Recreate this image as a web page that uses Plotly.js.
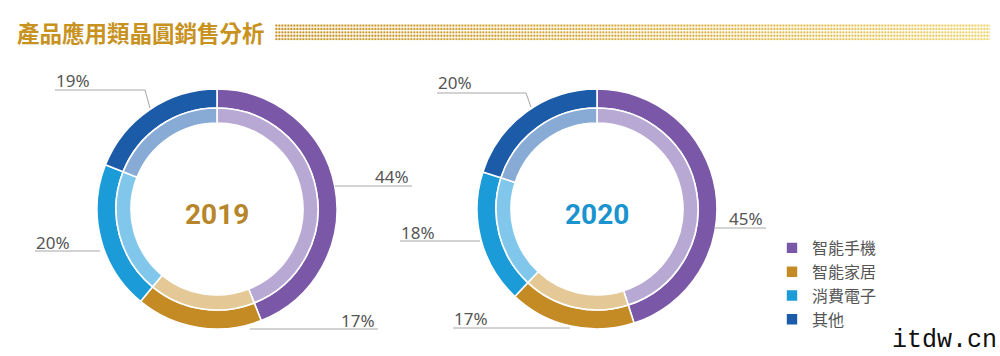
<!DOCTYPE html>
<html><head><meta charset="utf-8">
<script src="https://cdn.plot.ly/plotly-3.0.1.min.js"></script>
<style>html,body{margin:0;padding:0;background:#fff}#chart{width:1000px;height:356px}</style>
</head><body><div id="chart"></div>
<script>
// ---- data ----
const categories = ['智能手機', '智能家居', '消費電子', '其他'];
const years = ['2019', '2020'];
const share2019 = [44, 17, 20, 19];
const share2020 = [45, 17, 18, 20];
const titleText = '產品應用類晶圓銷售分析';

// ---- styles ----
const darkColors = ['#7b58a7', '#c48a24', '#1b9bd7', '#1b5ba8'];
const lightColors = ['#b8a8d4', '#e4c997', '#80c7eb', '#88abd6'];
const yearColors = ['#b8862a', '#1a93cf'];
const W = 1000, H = 356;
const px = x => x / W, py = y => 1 - y / H;
const centers = [[217, 209], [597, 209]];
const R_OUT = 120, R_MID = 101, R_IN = 86;

function dom(cx, cy, r) {
  return {x: [px(cx - r), px(cx + r)], y: [py(cy + r), py(cy - r)]};
}
const seriesByYear = [share2019, share2020];
const traces = [];
seriesByYear.forEach((vals, i) => {
  const [cx, cy] = centers[i];
  traces.push({
    type: 'pie', labels: categories, values: vals, sort: false, direction: 'clockwise', rotation: 0,
    hole: R_MID / R_OUT, domain: dom(cx, cy, R_OUT), textinfo: 'none', hoverinfo: 'label+percent',
    marker: {colors: darkColors, line: {color: '#ffffff', width: 1.6}}, showlegend: i === 0
  });
  traces.push({
    type: 'pie', labels: categories, values: vals, sort: false, direction: 'clockwise', rotation: 0,
    hole: R_IN / R_MID, domain: dom(cx, cy, R_MID), textinfo: 'none', hoverinfo: 'label+percent',
    marker: {colors: lightColors, line: {color: '#ffffff', width: 1.6}}, showlegend: false
  });
});

// label placement (layout only): per year, per slice index
const labelLayout = [
  [
    {tx: 411, ty: 177, anchor: 'right', line: [[335, 186], [412, 186]]},
    {tx: 377, ty: 320, anchor: 'right', line: [[250, 329], [378, 329]]},
    {tx: 34, ty: 242, anchor: 'left', line: [[35, 251], [100, 251]]},
    {tx: 54, ty: 81, anchor: 'left', line: [[55, 90], [145, 90], [150, 108]]}
  ],
  [
    {tx: 765, ty: 218, anchor: 'right', line: [[715, 228], [766, 228]]},
    {tx: 452, ty: 318, anchor: 'left', line: [[453, 328], [570, 328]]},
    {tx: 399, ty: 232, anchor: 'left', line: [[400, 241], [480, 241]]},
    {tx: 436, ty: 83, anchor: 'left', line: [[437, 93], [526, 93], [531, 107]]}
  ]
];

const annotations = [];
const shapes = [];
seriesByYear.forEach((vals, i) => {
  vals.forEach((v, j) => {
    const L = labelLayout[i][j];
    annotations.push({
      xref: 'paper', yref: 'paper', x: px(L.tx), y: py(L.ty), xanchor: L.anchor, yanchor: 'middle',
      text: v + '%', showarrow: false,
      font: {family: 'Noto Sans, Open Sans, sans-serif', size: 17, color: '#555555'}
    });
    const path = L.line.map((p, k) => (k ? 'L' : 'M') + px(p[0]) + ',' + py(p[1])).join(' ');
    shapes.push({type: 'path', xref: 'paper', yref: 'paper', path: path,
      line: {color: '#a6a6a6', width: 1}});
  });
  annotations.push({
    xref: 'paper', yref: 'paper', x: px(centers[i][0]), y: py(centers[i][1] + 5), xanchor: 'center', yanchor: 'middle',
    text: '<b>' + years[i] + '</b>', showarrow: false,
    font: {family: 'Roboto, sans-serif', size: 28, color: yearColors[i]}
  });
});

// title
annotations.push({
  xref: 'paper', yref: 'paper', x: px(15), y: py(32), xanchor: 'left', yanchor: 'middle',
  text: '<b>' + titleText + '</b>', showarrow: false,
  font: {family: 'Noto Sans CJK TC, sans-serif', size: 22.5, color: '#c8921f'}
});
// watermark
annotations.push({
  xref: 'paper', yref: 'paper', x: px(890), y: py(340), xanchor: 'left', yanchor: 'middle',
  text: 'itdw.cn', showarrow: false,
  font: {family: 'Liberation Mono, DejaVu Sans Mono, monospace', size: 25, color: '#111111'}
});

// dotted band next to title
const dotSvg = '<svg xmlns="http://www.w3.org/2000/svg" width="715" height="17">' +
  '<defs><linearGradient id="g" x1="0" x2="1" y1="0" y2="0">' +
  '<stop offset="0" stop-color="#c28a14"/><stop offset="0.6" stop-color="#d9ac35"/><stop offset="1" stop-color="#ecd060"/></linearGradient>' +
  '<pattern id="p" width="3" height="3.4" patternUnits="userSpaceOnUse">' +
  '<rect x="0.4" y="0.5" width="2" height="2" fill="#fff"/></pattern>' +
  '<mask id="m"><rect width="715" height="17" fill="url(#p)"/></mask></defs>' +
  '<rect width="715" height="17" fill="url(#g)" mask="url(#m)"/></svg>';
const images = [{
  source: 'data:image/svg+xml;charset=utf-8,' + encodeURIComponent(dotSvg),
  xref: 'paper', yref: 'paper', x: px(275), y: py(24), sizex: px(715), sizey: 17 / H,
  xanchor: 'left', yanchor: 'top', sizing: 'stretch', layer: 'above'
}];

const layout = {
  width: W, height: H, margin: {l: 0, r: 0, t: 0, b: 0},
  paper_bgcolor: '#ffffff', plot_bgcolor: '#ffffff',
  showlegend: true,
  legend: {x: px(772), y: py(231), xanchor: 'left', yanchor: 'top', traceorder: 'normal',
    font: {family: 'Noto Sans CJK TC, sans-serif', size: 16, color: '#555555'}, bgcolor: 'rgba(0,0,0,0)'},
  annotations: annotations, shapes: shapes, images: images
};
Plotly.newPlot('chart', traces, layout, {displayModeBar: false, staticPlot: true});
</script></body></html>
